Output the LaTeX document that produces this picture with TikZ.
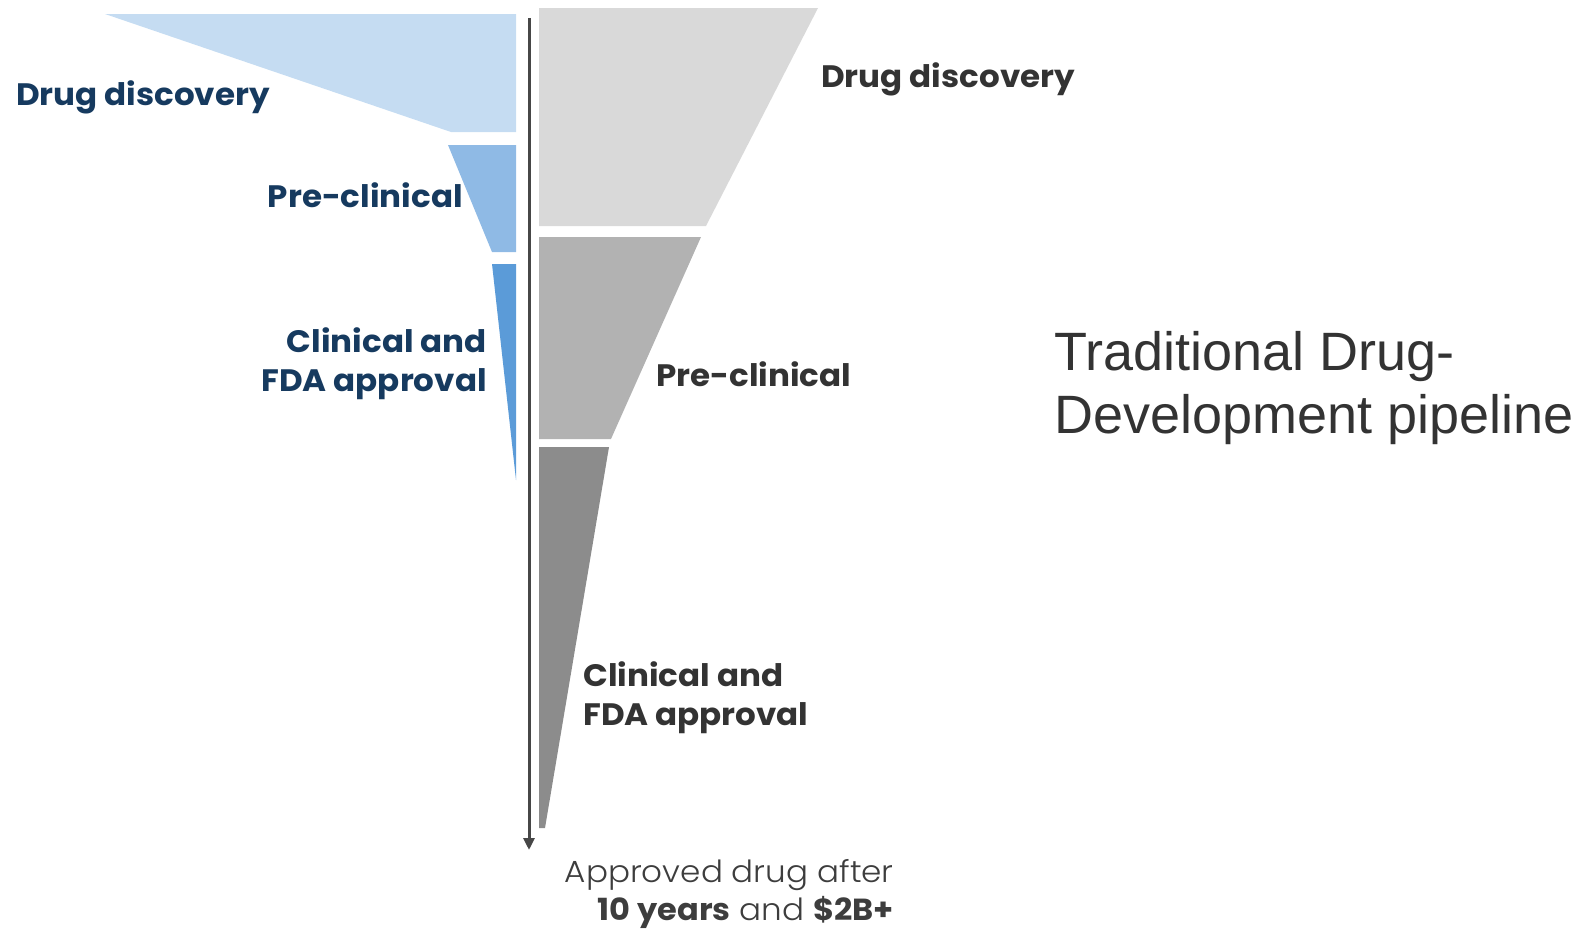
\documentclass[tikz,border=0pt]{standalone}
\usepackage{fontspec}
\setmainfont{Poppins}[FakeStretch=1.05]
\newfontfamily\titlefont{Liberation Sans}
\newfontfamily\lightfont{Poppins Light}[FakeStretch=1.07]
\usetikzlibrary{arrows.meta}
\definecolor{navy}{HTML}{163A5F}
\definecolor{ink}{HTML}{333333}
\definecolor{blueA}{HTML}{C5DCF2}
\definecolor{blueB}{HTML}{8FBAE5}
\definecolor{blueC}{HTML}{5B9BD8}
\definecolor{grayA}{HTML}{D9D9D9}
\definecolor{grayB}{HTML}{B2B2B2}
\definecolor{grayC}{HTML}{8C8C8C}
\tikzset{
  stagelbl/.style={font=\fontsize{31}{39}\selectfont\bfseries, inner sep=0pt},
  newlbl/.style={stagelbl, text=navy, align=right, anchor=base east},
  oldlbl/.style={stagelbl, text=ink, align=left, anchor=base west},
}
\begin{document}
\begin{tikzpicture}[x=1pt,y=-1pt]
\useasboundingbox (0,0) rectangle (1596,929);
% short pipeline (left)
\fill[blueA] (105,14) -- (516,14) -- (516,132) -- (451,132) -- cycle;
\fill[blueB] (448,145) -- (516,145) -- (516,252) -- (492,252) -- cycle;
\fill[blueC] (492,264) -- (516,264) -- (516,480) -- cycle;
% traditional pipeline (right)
\fill[grayA] (539,8) -- (818,8) -- (706,226) -- (539,226) -- cycle;
\fill[grayB] (539,237) -- (701,237) -- (611,439) -- (539,439) -- cycle;
\fill[grayC] (539,447) -- (609,447) -- (545,828) -- (539,828) -- cycle;
% time axis
\coordinate (start) at (529,18);
\coordinate (finish) at (529,850);
\draw[line width=3pt, color=ink!90, -{Triangle[length=12pt,width=11pt]}] (start) -- (finish);
% labels (base of a two-line node is its last line)
\node[newlbl] (discL) at (270,105) {Drug discovery};
\node[newlbl] (preL) at (463,207) {Pre-clinical};
\node[newlbl] (clinL) at (487,391) {Clinical and\\FDA approval};
\node[oldlbl] (discR) at (821,87) {Drug discovery};
\node[oldlbl] (preR) at (656,386) {Pre-clinical};
\node[oldlbl] (clinR) at (583,725) {Clinical and\\FDA approval};
\node[anchor=base west, inner sep=0pt, align=left, text=ink,
  font=\titlefont\fontsize{54}{63}\selectfont] (title) at (1054,433)
  {Traditional Drug-\\Development pipeline};
\node[anchor=base east, inner sep=0pt, align=right, text=ink!95,
  font=\lightfont\fontsize{30.5}{38}\selectfont] (result) at (894,920)
  {Approved drug after\\{\normalfont\bfseries 10 years} and {\normalfont\bfseries \$2B+}};
\end{tikzpicture}
\end{document}
